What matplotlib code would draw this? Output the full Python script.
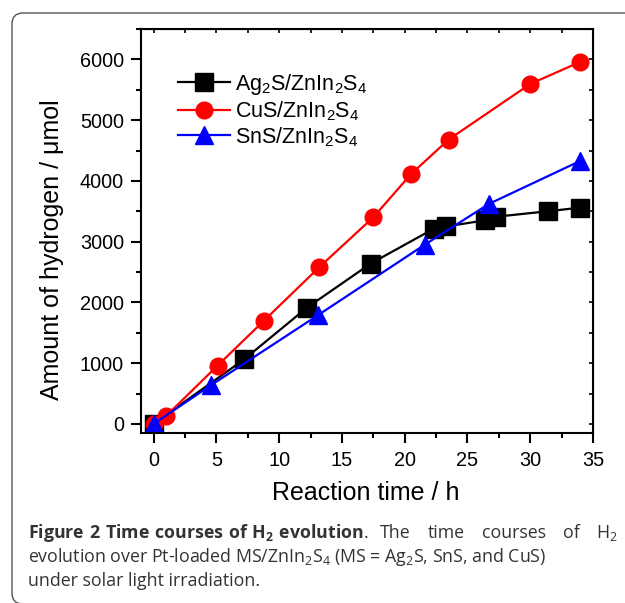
import numpy as np
import matplotlib
matplotlib.use('Agg')
import matplotlib.pyplot as plt
from matplotlib.patches import FancyBboxPatch
from matplotlib.transforms import IdentityTransform
from matplotlib.ticker import MultipleLocator

plt.rcParams['font.family'] = ['Liberation Sans', 'DejaVu Sans']
plt.rcParams['mathtext.fontset'] = 'custom'
plt.rcParams['mathtext.rm'] = 'Open Sans'
plt.rcParams['mathtext.bf'] = 'Open Sans:bold'

# data
t_ag = [0, 7.2, 12.2, 17.3, 22.3, 23.3, 26.4, 27.3, 31.4, 34.0]
h_ag = [0, 1060, 1910, 2640, 3210, 3250, 3350, 3410, 3500, 3560]
t_cu = [0, 1.0, 5.1, 8.8, 13.2, 17.5, 20.5, 23.5, 30.0, 34.0]
h_cu = [0, 130, 960, 1700, 2580, 3400, 4110, 4680, 5595, 5960]
t_sn = [0, 4.6, 13.1, 21.6, 26.7, 34.0]
h_sn = [0, 640, 1790, 2950, 3620, 4330]

labels = [r'Ag$\mathregular{_2}$S/ZnIn$\mathregular{_2}$S$\mathregular{_4}$',
          r'CuS/ZnIn$\mathregular{_2}$S$\mathregular{_4}$',
          r'SnS/ZnIn$\mathregular{_2}$S$\mathregular{_4}$']

fig = plt.figure(figsize=(6.25, 6.03), dpi=100)
W, H = 625, 603

# rounded frame of the figure panel (pixel coordinates)
frame = FancyBboxPatch((12, -1), 700, H - 13 + 1,
                       boxstyle='round,pad=0,rounding_size=11',
                       transform=IdentityTransform(), fill=False,
                       edgecolor='#555555', linewidth=1.0)
fig.patches.append(frame)

ax = fig.add_axes([141 / W, (H - 433) / H, (593 - 141) / W, (433 - 29) / H])

ax.plot(t_ag, h_ag, 'k-', marker='s', ms=12.5, lw=1.6, label=labels[0])
ax.plot(t_cu, h_cu, '-', color='#ff0000', marker='o', ms=12, lw=1.6, label=labels[1])
ax.plot(t_sn, h_sn, '-', color='#0000ff', marker='^', ms=13.5, lw=1.6, label=labels[2])

ax.set_xlim(-1, 35)
ax.set_ylim(-150, 6500)
ax.xaxis.set_major_locator(MultipleLocator(5))
ax.xaxis.set_minor_locator(MultipleLocator(2.5))
ax.yaxis.set_major_locator(MultipleLocator(1000))
ax.yaxis.set_minor_locator(MultipleLocator(500))
ax.set_yticks([0, 1000, 2000, 3000, 4000, 5000, 6000])
for s in ax.spines.values():
    s.set_linewidth(1.5)
ax.tick_params(which='major', direction='out', length=7.2, width=1.5, labelsize=14.3)
ax.tick_params(which='minor', direction='out', length=3.6, width=1.5)
ax.tick_params(axis='x', which='major', pad=6)
ax.tick_params(axis='y', which='major', pad=5)

# inward ticks on top and right
axt = ax.secondary_xaxis('top')
axt.xaxis.set_major_locator(MultipleLocator(2.5))
axt.tick_params(direction='in', length=3, width=1.2, labeltop=False)
axr = ax.secondary_yaxis('right')
axr.yaxis.set_major_locator(MultipleLocator(500))
axr.tick_params(direction='in', length=3, width=1.2, labelright=False)

fig.text(52 / W, 1 - 250 / H, 'Amount of hydrogen / μmol', rotation=90,
         ha='center', va='center', fontsize=18)
fig.text(366 / W, 1 - 493 / H, 'Reaction time / h', ha='center', va='center', fontsize=18)

leg = ax.legend(loc='upper left', bbox_to_anchor=((178 - 141) / 452, (433 - 72) / 404),
                frameon=False, fontsize=15.5, handlelength=2.4, handletextpad=0.25,
                labelspacing=0.1, borderaxespad=0, borderpad=0)

# caption
cap_kw = dict(family='Open Sans', fontsize=12.8, color='#333333', ha='left', va='baseline')
fig.text(28 / W, 1 - 538 / H,
         r'$\mathbf{Figure\ 2\ Time\ courses\ of\ H_2\ evolution}$.', **cap_kw)
fig.text(28 / W, 1 - 562 / H,
         r'evolution over Pt-loaded MS/ZnIn$_2$S$_4$ (MS = Ag$_2$S, SnS, and CuS)', **cap_kw)
fig.text(28 / W, 1 - 586 / H, 'under solar light irradiation.', **cap_kw)

# justified tail of the first caption line
words = ['The', 'time', 'courses', 'of', r'H$_2$']
x0, x1 = 380, 618
renderer = fig.canvas.get_renderer()
objs = [fig.text(0, 1 - 538 / H, w, **cap_kw) for w in words]
widths = [o.get_window_extent(renderer).width for o in objs]
gap = (x1 - x0 - sum(widths)) / (len(words) - 1)
x = x0
for o, w in zip(objs, widths):
    o.set_x(x / W)
    x += w + gap

fig.savefig('out.png', dpi=100)
